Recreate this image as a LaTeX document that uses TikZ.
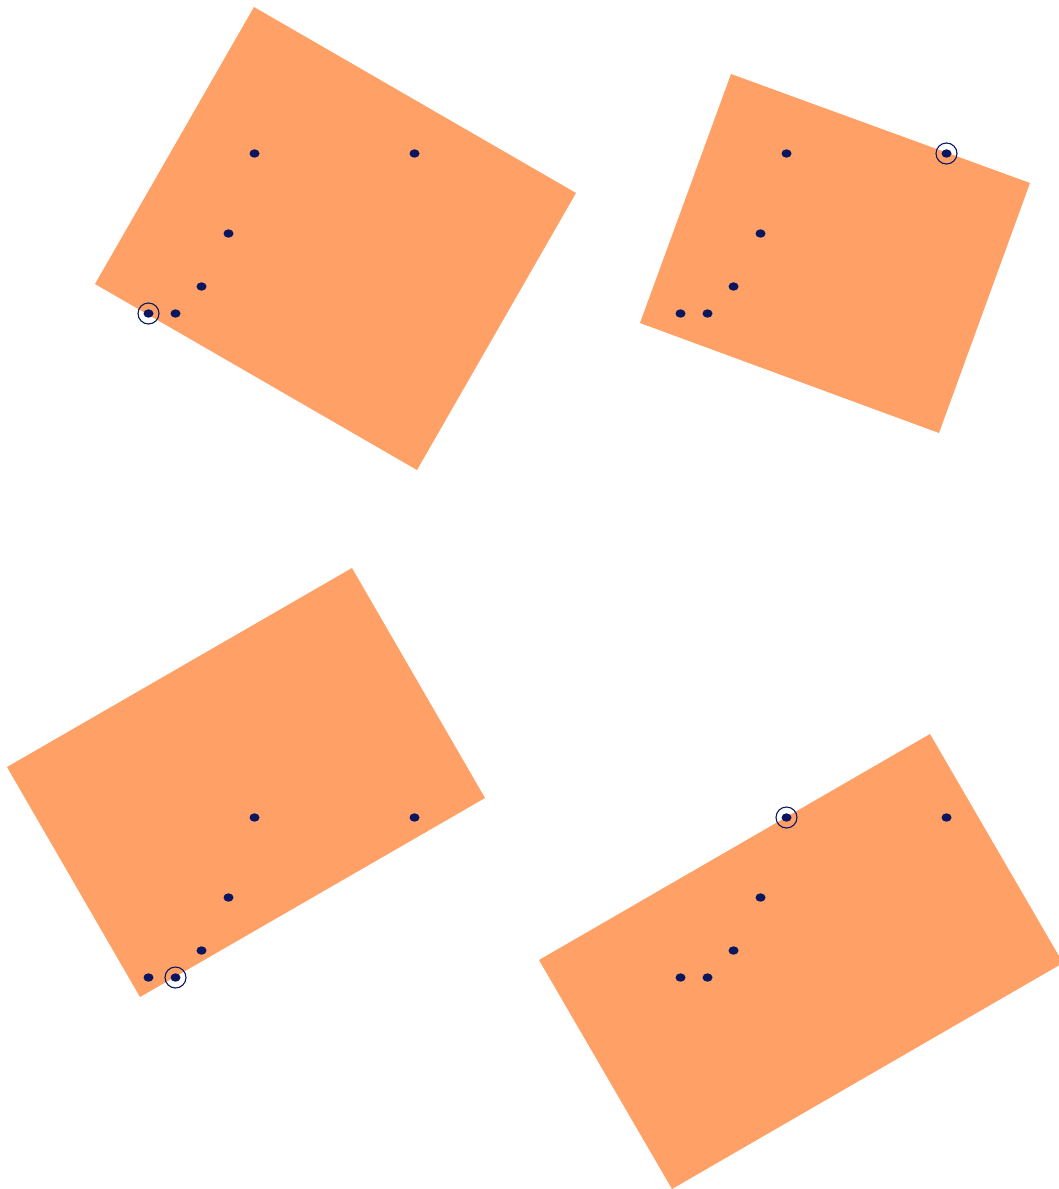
\documentclass[tikz,border=0pt]{standalone}
\definecolor{rectorange}{HTML}{FFA066}
\definecolor{dotnavy}{HTML}{0A1660}
\tikzset{
  panel/.style={fill=rectorange, draw=none},
  dotmark/.style={fill=dotnavy},
  ringmark/.style={draw=dotnavy, line width=1.1pt}
}
\begin{document}
\begin{tikzpicture}[x=1pt,y=-1pt]
\useasboundingbox (0,0) rectangle (1059,1189);
\clip (0,0) rectangle (1059,1189);
% panels
\fill[panel] (254,7) -- (576,193) -- (417,470) -- (95,284) -- cycle;
\fill[panel] (731,74) -- (1030,183) -- (939,433) -- (640,323) -- cycle;
\fill[panel] (352,568) -- (485,798) -- (140,997) -- (7,767) -- cycle;
\fill[panel] (930,734) -- (1063,963) -- (672,1189) -- (539,960) -- cycle;
% dots
\foreach \dx/\dy in {0/0, 532/0, 0/664, 532/664}{
  \foreach \px/\py in {254.5/153.5, 414.5/153.5, 228.5/233.5, 201.5/286.5, 148.5/313.5, 175.5/313.5}{
    \fill[dotmark] (\px+\dx,\py+\dy) ellipse [x radius=5, y radius=4.2];
  }
}
% rings
\draw[ringmark] (148.5,313.5) circle [radius=10.5];
\draw[ringmark] (946.5,153.5) circle [radius=10.5];
\draw[ringmark] (175.5,977.5) circle [radius=10.5];
\draw[ringmark] (786.5,817.5) circle [radius=10.5];
\end{tikzpicture}
\end{document}
